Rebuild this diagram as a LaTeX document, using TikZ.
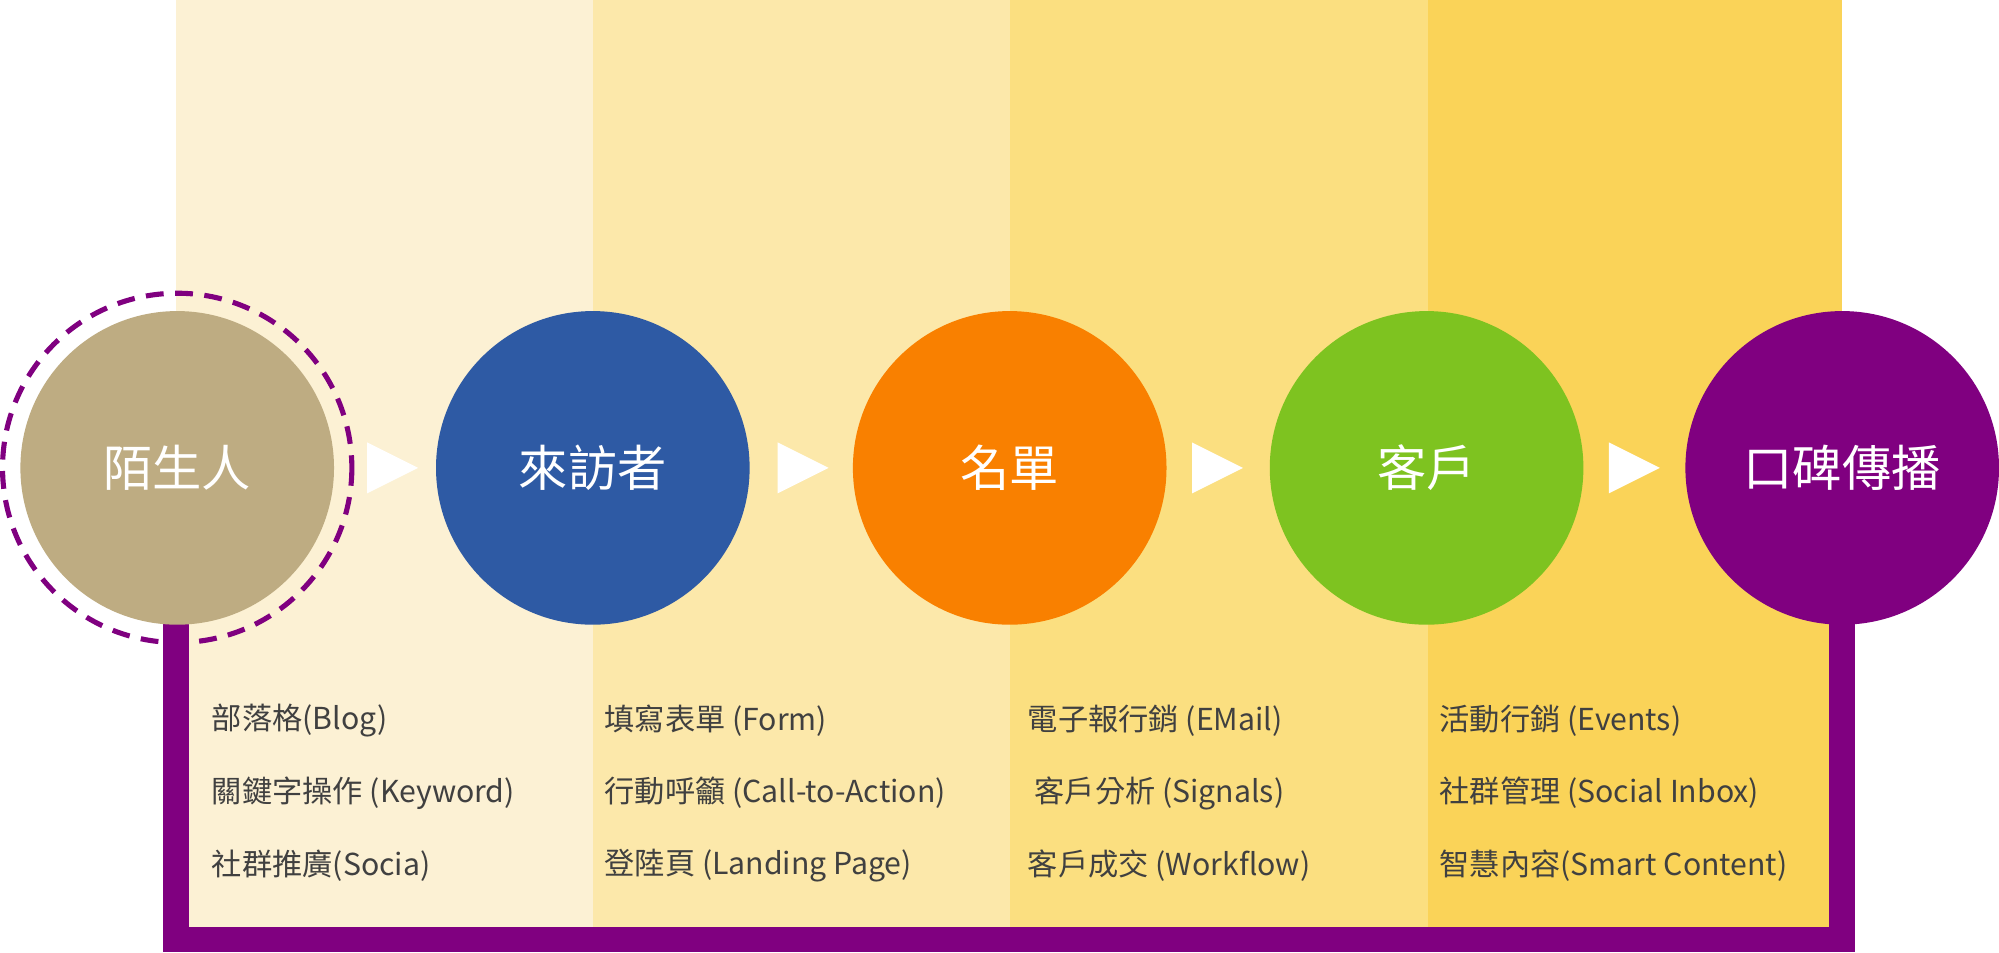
\documentclass[tikz,border=0pt]{standalone}
\usepackage{fontspec}
\setmainfont{Noto Sans CJK TC}
\begin{document}
\begin{tikzpicture}[x=0.02cm,y=-0.02cm,
  band/.style={draw=none},
  stage/.style={circle,minimum size=246*0.02cm,inner sep=0pt,text=white,font=\fontsize{22}{26}\selectfont},
  item/.style={anchor=west,font=\fontsize{13.5}{16}\selectfont,text=black!75},
  tri/.style={fill=white,draw=none}]
\definecolor{b1}{RGB}{252,241,212}
\definecolor{b2}{RGB}{252,232,170}
\definecolor{b3}{RGB}{251,223,128}
\definecolor{b4}{RGB}{250,211,88}
\definecolor{ctan}{RGB}{190,172,130}
\definecolor{cblue}{RGB}{46,90,164}
\definecolor{corange}{RGB}{249,128,0}
\definecolor{cgreen}{RGB}{126,195,32}
\definecolor{cpurple}{RGB}{128,0,128}
\useasboundingbox[fill=white] (0,0) rectangle (1568,747);
\fill[b1] (138,0) rectangle (465,727);
\fill[b2] (465,0) rectangle (792,727);
\fill[b3] (792,0) rectangle (1120,727);
\fill[b4] (1120,0) rectangle (1445,727);
\coordinate (pl) at (138,737);
\coordinate (pr) at (1445,737);
\draw[cpurple,line width=20*0.02cm] (138,367) -- (pl) -- (pr) -- (1445,367);
\node[stage,fill=ctan] (s1) at (139,367) {陌生人};
\draw[cpurple,dashed,line width=4*0.02cm,dash pattern=on 14*0.02cm off 9*0.02cm] (s1.center) circle (137);
\node[stage,fill=cblue] (s2) at (465,367) {來訪者};
\node[stage,fill=corange] (s3) at (792,367) {名單};
\node[stage,fill=cgreen] (s4) at (1119,367) {客戶};
\node[stage,fill=cpurple] (s5) at (1445,367) {口碑傳播};
\foreach \x in {288,610,935,1262}{\fill[tri] (\x,347) -- (\x+40,367) -- (\x,387) -- cycle;}
\node[item] (a1) at (160,565) {部落格(Blog)};
\node[item] (a2) at (160,622) {關鍵字操作 (Keyword)};
\node[item] (a3) at (160,679) {社群推廣(Socia)};
\node[item] (b1n) at (468,565) {填寫表單 (Form)};
\node[item] (b2n) at (468,622) {行動呼籲 (Call-to-Action)};
\node[item] (b3n) at (468,679) {登陸頁 (Landing Page)};
\node[item] (c1) at (800,565) {電子報行銷 (EMail)};
\node[item] (c2) at (800,622) {\ 客戶分析 (Signals)};
\node[item] (c3) at (800,679) {客戶成交 (Workflow)};
\node[item] (d1) at (1123,565) {活動行銷 (Events)};
\node[item] (d2) at (1123,622) {社群管理 (Social Inbox)};
\node[item] (d3) at (1123,679) {智慧內容(Smart Content)};
\end{tikzpicture}
\end{document}
